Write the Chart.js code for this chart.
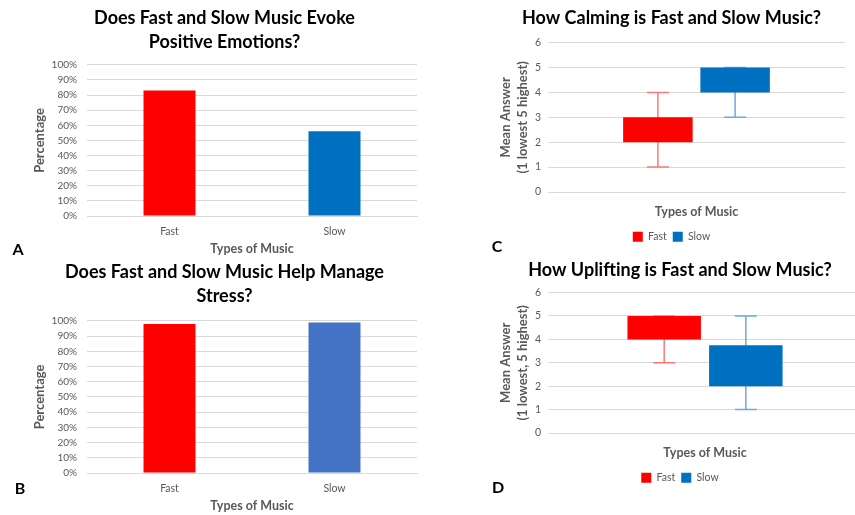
<!DOCTYPE html>
<html>
<head>
<meta charset="utf-8">
<script src="https://cdn.jsdelivr.net/npm/chart.js@4.4.0/dist/chart.umd.min.js"></script>
<style>
html,body{margin:0;padding:0;background:#fff;}
body{width:855px;height:515px;position:relative;overflow:hidden;font-family:Lato,sans-serif;}
.pane{position:absolute;}
.letter{position:absolute;font:bold 16px Lato,sans-serif;color:#000;transform:translate(-50%,-50%);}
</style>
</head>
<body>
<div class="pane" style="left:0;top:0;width:430px;height:258px"><canvas id="cA"></canvas></div>
<div class="pane" style="left:0;top:255px;width:430px;height:260px"><canvas id="cB"></canvas></div>
<div class="pane" style="left:490px;top:0;width:365px;height:258px"><canvas id="cC"></canvas></div>
<div class="pane" style="left:490px;top:255px;width:382px;height:260px"><canvas id="cD"></canvas></div>
<div class="letter" style="left:18px;top:248px">A</div>
<div class="letter" style="left:20px;top:487px">B</div>
<div class="letter" style="left:497px;top:245px">C</div>
<div class="letter" style="left:498px;top:486px">D</div>
<script>
// data
const musicTypes = ['Fast', 'Slow'];
const emotionPct = [83, 56];      // A
const stressPct = [98, 99];       // B
const calmBoxes = [[2, 3], [4, 5]];      // C: box low/high per type
const calmWhiskers = [[1, 4], [3, 5]];   // C: whisker low/high
const upliftBoxes = [[4, 5], [2, 3.75]]; // D
const upliftWhiskers = [[3, 5], [1, 5]];

const RED = '#FF0000';
const BLUE = '#0070C0';
const BLUE_B = '#4472C4';
const WHISK = ['#FF7777', '#6FA8DC'];
const GRID = '#D9D9D9';
const TXT = '#595959';

Chart.defaults.font.family = 'Lato, sans-serif';
Chart.defaults.animation = false;
Chart.defaults.maintainAspectRatio = false;
Chart.defaults.plugins.tooltip.enabled = false;

// draws whiskers behind the boxes, from dataset.whisker = [low, high]
const whiskerPlugin = {
  id: 'whisk',
  beforeDatasetsDraw(chart){
    const {ctx, scales:{y}} = chart;
    chart.data.datasets.forEach((ds, i)=>{
      if(!ds.whisker) return;
      const bar = chart.getDatasetMeta(i).data[0];
      const lo = y.getPixelForValue(ds.whisker[0]);
      const hi = y.getPixelForValue(ds.whisker[1]);
      ctx.save();
      ctx.strokeStyle = ds.whiskerColor;
      ctx.lineWidth = 1.5;
      ctx.beginPath();
      ctx.moveTo(bar.x, lo); ctx.lineTo(bar.x, hi);
      ctx.moveTo(bar.x-11, lo); ctx.lineTo(bar.x+11, lo);
      ctx.moveTo(bar.x-11, hi); ctx.lineTo(bar.x+11, hi);
      ctx.stroke();
      ctx.restore();
    });
  }
};

function barChart(id, title, values, colors, padTop, padBottom){
  return new Chart(document.getElementById(id), {
    type: 'bar',
    data: {labels: musicTypes, datasets: [{data: values, backgroundColor: colors,
      borderWidth: 0, barPercentage: 0.9, categoryPercentage: 0.35}]},
    options: {
      layout: {padding: {left: 32, right: 13}},
      plugins: {
        legend: {display: false},
        title: {display: true, text: title, color: '#000',
          font: {size: 18, weight: 'bold', lineHeight: 1.33}, padding: {top: padTop, bottom: padBottom}}
      },
      scales: {
        x: {
          grid: {display: false}, border: {color: GRID},
          ticks: {color: TXT, font: {size: 10.5}, padding: 1},
          title: {display: true, text: 'Types of Music', color: TXT, font: {size: 12.5, weight: 'bold'}, padding: {top: 2, bottom: 2}},
          afterFit: s => { s.height = 42; }
        },
        y: {
          min: 0, max: 100,
          grid: {color: GRID, drawTicks: false}, border: {display: false},
          ticks: {stepSize: 10, color: TXT, font: {size: 10}, padding: 10, callback: v => v + '%'},
          title: {display: true, text: 'Percentage', color: TXT, font: {size: 13, weight: 'bold'}, padding: {top: 0, bottom: 0}},
          afterFit: s => { s.width = 55; }
        }
      }
    }
  });
}

function boxChart(id, title, yTitle, boxes, whiskers, padTop, padBottom, bottom){
  const sets = musicTypes.map((t, i)=>({
    label: t, data: [boxes[i]], whisker: whiskers[i], whiskerColor: WHISK[i],
    backgroundColor: i ? BLUE : RED, borderWidth: 0,
    barPercentage: 0.9, categoryPercentage: 0.52
  }));
  return new Chart(document.getElementById(id), {
    type: 'bar',
    data: {labels: [''], datasets: sets},
    plugins: [whiskerPlugin],
    options: {
      layout: {padding: {left: 8, right: 10, bottom: bottom}},
      plugins: {
        legend: {position: 'bottom', labels: {boxWidth: 10, boxHeight: 10, color: TXT, font: {size: 10.5}, padding: 6}},
        title: {display: true, text: title, color: '#000',
          font: {size: 18, weight: 'bold'}, padding: {top: padTop, bottom: padBottom}}
      },
      scales: {
        x: {
          grid: {display: false}, border: {color: GRID},
          ticks: {display: false},
          title: {display: true, text: 'Types of Music', color: TXT, font: {size: 12.5, weight: 'bold'}, padding: {top: 4, bottom: 6}},
          afterFit: s => { s.height = 33.5; }
        },
        y: {
          min: 0, max: 6,
          grid: {color: GRID, drawTicks: false}, border: {display: false},
          ticks: {stepSize: 1, color: TXT, font: {size: 10.5}, padding: 7},
          title: {display: true, text: yTitle, color: TXT, font: {size: 13, weight: 'bold', lineHeight: 1.25}, padding: {top: 0, bottom: 0}},
          afterFit: s => { s.width = 50; }
        }
      }
    }
  });
}

barChart('cA', ['Does Fast and Slow Music Evoke', 'Positive Emotions?'], emotionPct, [RED, BLUE], 6, 11);
barChart('cB', ['Does Fast and Slow Music Help Manage', 'Stress?'], stressPct, [RED, BLUE_B], 5, 13);
boxChart('cC', 'How Calming is Fast and Slow Music?', ['Mean Answer', '(1 lowest 5 highest)'], calmBoxes, calmWhiskers, 7, 14, 6);
boxChart('cD', 'How Uplifting is Fast and Slow Music?', ['Mean Answer', '(1 lowest, 5 highest)'], upliftBoxes, upliftWhiskers, 4, 12, 22);
</script>
</body>
</html>
